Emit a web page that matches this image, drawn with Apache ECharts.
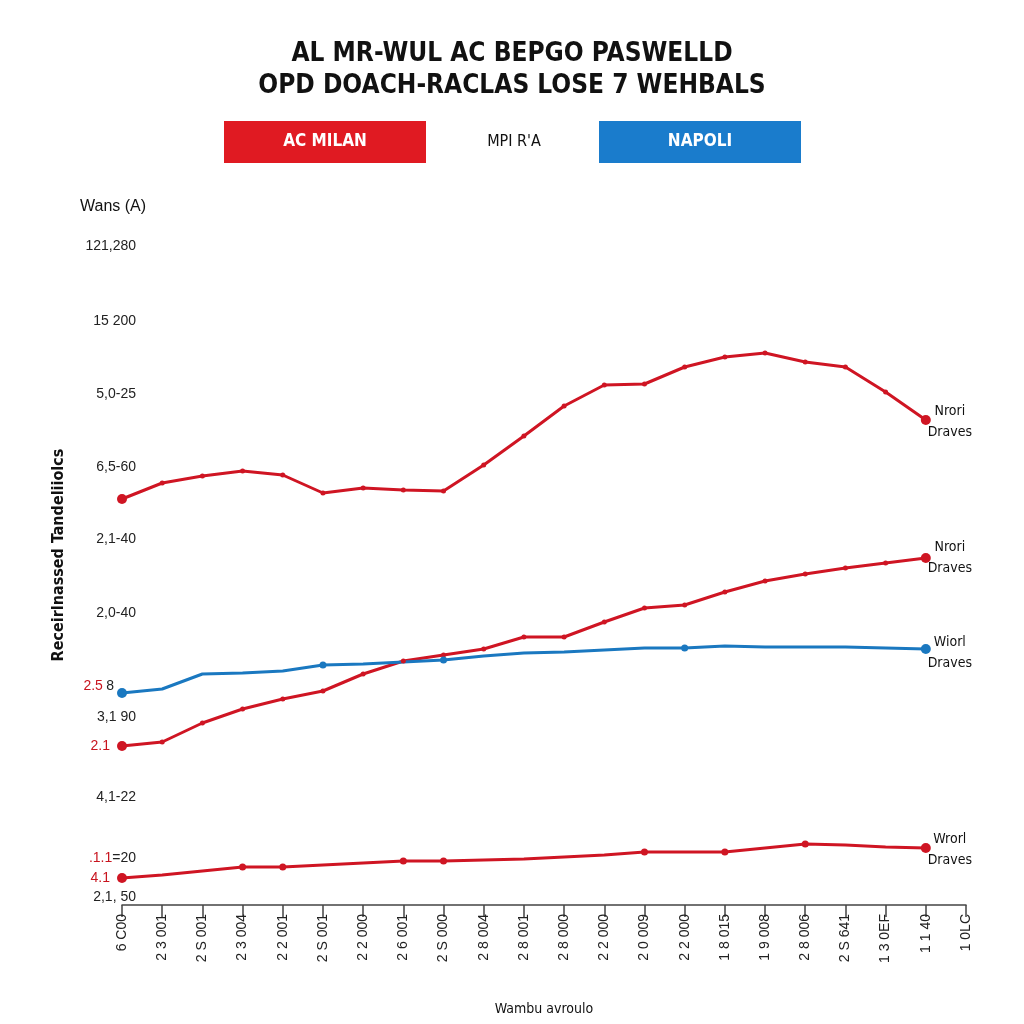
<!DOCTYPE html>
<html>
<head>
<meta charset="utf-8">
<script src="https://cdn.jsdelivr.net/npm/echarts@6/dist/echarts.min.js"></script>
<style>html,body{margin:0;padding:0;background:#fff;}#c{width:1024px;height:1024px;}</style>
</head>
<body>
<div id="c"></div>
<script>
// ---- data ----
const categories = ["6 C00","2 3 001","2 S 001","2 3 004","2 2 001","2 S 001","2 2 000","2 6 001","2 S 000","2 8 004","2 8 001","2 8 000","2 2 000","2 0 009","2 2 000","1 8 015","1 9 008","2 8 006","2 S 641","1 3 0EF","1 1 40","1 0LC"];
const milanTop    = [406,422,429,434,430,412,417,415,414,440,469,499,520,521,538,548,552,543,538,513,485];
const milanMid    = [159,163,182,196,206,214,231,244,250,256,268,268,283,297,300,313,324,331,337,342,347];
const napoli      = [212,216,231,232,234,240,241,243,245,249,252,253,255,257,257,259,258,258,258,257,256];
const milanBottom = [27,30,34,38,38,40,42,44,44,45,46,48,50,53,53,53,57,61,60,58,57];
const yTickValues = [659,584,511,438,366,292,219,188,159,108,47,27,8];
const yTickLabels = ["121,280","15 200","5,0-25","6,5-60","2,1-40","2,0-40","2.5 8","3,1 90","2.1","4,1-22",".1.1=20","4.1","2,1, 50"];
const endNames = ["Nrori\nDraves","Nrori\nDraves","Wiorl\nDraves","Wrorl\nDraves"];

const RED = '#cf1523', BLUE = '#1a78c0';
const FONT = 'Liberation Sans';
const COND = '"DejaVu Sans Condensed", "Liberation Sans Narrow", "DejaVu Sans", sans-serif';

function yFmt(v){
  const i = yTickValues.indexOf(v);
  if (i < 0) return '';
  const t = yTickLabels[i];
  if (t === '2.5 8') return '{r|2.5} {k|8}{s1|}';
  if (t === '2.1' || t === '4.1') return '{r|' + t + '}{s2|}';
  if (t === '.1.1=20') return '{r|.1.1}{k|=20}';
  return '{k|' + t + '}';
}

function markerSize(keep){
  return function(val, p){
    const n = 20;
    if (p.dataIndex === 0 || p.dataIndex === n) return 10;
    if (keep === 'all') return 5;
    return keep.indexOf(p.dataIndex) >= 0 ? 7 : 0;
  };
}

function endLabel(txt, dy){
  return {
    show: true,
    formatter: txt,
    color: '#111',
    fontFamily: COND,
    fontSize: 14,
    lineHeight: 21,
    align: 'center',
    verticalAlign: 'middle',
    offset: [16, dy]
  };
}

function mkSeries(name, data, color, keep, label, dy){
  return {
    name: name, type: 'line', data: data,
    lineStyle: { color: color, width: 3 },
    itemStyle: { color: color },
    symbol: 'circle',
    symbolSize: markerSize(keep),
    showAllSymbol: true,
    endLabel: endLabel(label, dy),
    emphasis: { disabled: true },
    z: 3
  };
}

const chart = echarts.init(document.getElementById('c'), null, { renderer: 'canvas' });
chart.setOption({
  animation: false,
  backgroundColor: '#fff',
  title: {
    text: 'AL MR-WUL AC BEPGO PASWELLD\nOPD DOACH-RACLAS LOSE 7 WEHBALS',
    left: 'center', top: 33,
    textStyle: { fontFamily: COND, fontWeight: 'bold', fontSize: 26, lineHeight: 32, color: '#111' }
  },
  graphic: [
    { type: 'rect', shape: { x: 224, y: 121, width: 202, height: 42 }, style: { fill: '#e01a22' } },
    { type: 'text', x: 325, y: 142, style: { text: 'AC MILAN', fill: '#fff', font: 'bold 17px ' + COND, align: 'center', verticalAlign: 'middle' } },
    { type: 'text', x: 514, y: 142, style: { text: "MPI R'A", fill: '#111', font: '16px ' + COND, align: 'center', verticalAlign: 'middle' } },
    { type: 'rect', shape: { x: 599, y: 121, width: 202, height: 42 }, style: { fill: '#1a7ccc' } },
    { type: 'text', x: 700, y: 142, style: { text: 'NAPOLI', fill: '#fff', font: 'bold 17px ' + COND, align: 'center', verticalAlign: 'middle' } },
    { type: 'text', x: 80, y: 207, style: { text: 'Wans (A)', fill: '#111', font: '16px "Liberation Sans"', align: 'left', verticalAlign: 'middle' } }
  ],
  grid: { left: 122, right: 58, top: 205, bottom: 119, containLabel: false },
  xAxis: {
    type: 'category', data: categories, boundaryGap: false,
    name: 'Wambu avroulo', nameLocation: 'middle', nameGap: 97,
    nameTextStyle: { fontFamily: COND, fontSize: 14, color: '#111' },
    axisLine: { lineStyle: { color: '#444', width: 1.5 } },
    axisTick: { show: true, length: 12, alignWithLabel: true, lineStyle: { color: '#444', width: 1.5 } },
    axisLabel: { rotate: 90, interval: 0, margin: 9, fontFamily: FONT, fontSize: 14, color: '#222' },
    splitLine: { show: false }
  },
  yAxis: {
    type: 'value', min: 0, max: 700,
    name: 'Receirlnassed Tandeliiolcs', nameLocation: 'middle', nameGap: 55,
    nameTextStyle: { fontFamily: COND, fontWeight: 'bold', fontSize: 16, color: '#111' },
    axisLine: { show: false }, axisTick: { show: false },
    splitLine: { show: false },
    axisLabel: {
      customValues: yTickValues,
      formatter: yFmt,
      margin: -14,
      align: 'right',
      rich: {
        k: { color: '#222', fontFamily: FONT, fontSize: 14 },
        r: { color: '#c8141e', fontFamily: FONT, fontSize: 14 },
        s1: { width: 22 },
        s2: { width: 26 }
      }
    }
  },
  series: [
    mkSeries('AC MILAN', milanTop, RED, 'all', endNames[0], 2),
    mkSeries('AC MILAN 2', milanMid, RED, 'all', endNames[1], 0),
    mkSeries('NAPOLI', napoli, BLUE, [5,8,14], endNames[2], 4),
    mkSeries('AC MILAN 3', milanBottom, RED, [3,4,7,8,13,15,17], endNames[3], 2)
  ]
});
</script>
</body>
</html>
